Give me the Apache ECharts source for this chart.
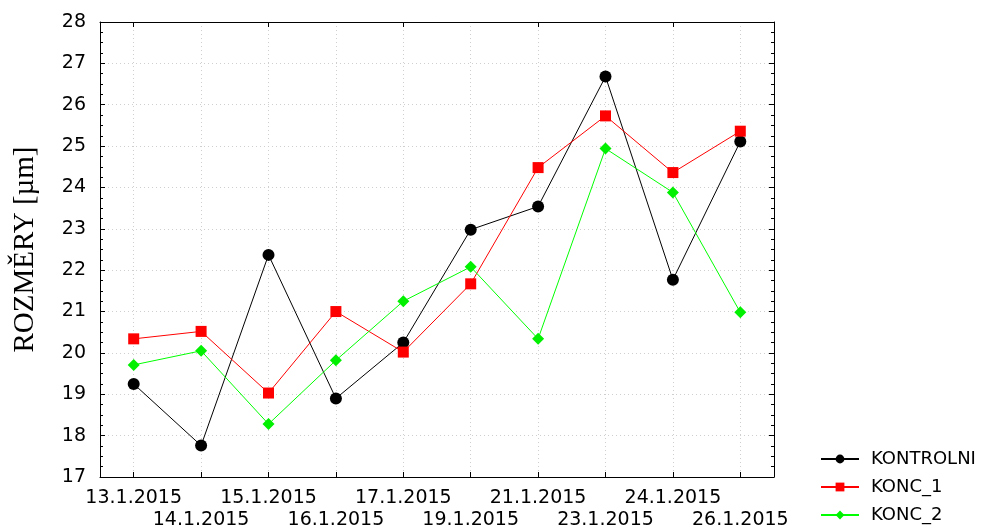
<!DOCTYPE html>
<html><head><meta charset="utf-8">
<script src="https://cdn.jsdelivr.net/npm/echarts@6/dist/echarts.min.js"></script>
<style>html,body{margin:0;padding:0;background:#fff}#c{width:1001px;height:530px}</style>
</head><body><div id="c"></div>
<script>
const categories = ['13.1.2015','14.1.2015','15.1.2015','16.1.2015','17.1.2015','19.1.2015','21.1.2015','23.1.2015','24.1.2015','26.1.2015'];
const kontrolni = [19.25, 17.76, 22.37, 18.90, 20.25, 22.98, 23.54, 26.68, 21.77, 25.11];
const konc1 = [20.34, 20.52, 19.03, 21.00, 20.02, 21.67, 24.48, 25.73, 24.36, 25.36];
const konc2 = [19.71, 20.05, 18.28, 19.82, 21.25, 22.08, 20.34, 24.94, 23.88, 20.98];
const yMin = 17, yMax = 28, yStep = 1;

const chart = echarts.init(document.getElementById('c'));
const font = 'DejaVu Sans, Arial, sans-serif';
const xCommon = {
  type: 'category', data: categories, boundaryGap: true,
  axisLine: { show: true, lineStyle: { color: '#000', width: 1 } },
  axisTick: { show: true, inside: true, alignWithLabel: true, length: 5, lineStyle: { color: '#000' } }
};
const yCommon = {
  type: 'value', min: yMin, max: yMax, interval: yStep,
  axisLine: { show: true, lineStyle: { color: '#000', width: 1 } },
  axisTick: { show: true, inside: true, length: 5, lineStyle: { color: '#000' } },
  minorTick: { show: true, splitNumber: 4, length: 3, lineStyle: { color: '#000' } }
};
chart.setOption({
  animation: false,
  grid: { left: 100, right: 227, top: 22, bottom: 53, containLabel: false, outerBoundsMode: 'none' },
  xAxis: [
    Object.assign({}, xCommon, {
      position: 'bottom',
      splitLine: { show: true, alignWithLabel: true, lineStyle: { color: '#cfcfcf', type: [1, 3], width: 1 } },
      axisLabel: {
        color: '#000', fontFamily: font, fontSize: 19, margin: 10, lineHeight: 22, interval: 0,
        formatter: (v, i) => (i % 2 ? '\n' + v : v)
      }
    }),
    Object.assign({}, xCommon, { position: 'top', axisLabel: { show: false }, splitLine: { show: false } })
  ],
  yAxis: [
    Object.assign({}, yCommon, {
      position: 'left',
      name: 'ROZMĚRY [µm]', nameLocation: 'middle', nameGap: 60, nameRotate: 90,
      nameTextStyle: { fontFamily: 'Liberation Serif, Times New Roman, serif', fontSize: 29, color: '#000' },
      axisLabel: { color: '#000', fontFamily: font, fontSize: 19, margin: 14 },
      splitLine: { show: true, lineStyle: { color: '#cfcfcf', type: [1, 3], width: 1 } }
    }),
    Object.assign({}, yCommon, { position: 'right', axisLabel: { show: false }, splitLine: { show: false } })
  ],
  legend: {
    orient: 'vertical', left: 815, top: 445,
    itemWidth: 38, itemHeight: 11, itemGap: 10,
    textStyle: { fontFamily: font, fontSize: 18, color: '#000', lineHeight: 18, padding: [0, 0, 0, 7] },
    data: ['KONTROLNI', 'KONC_1', 'KONC_2']
  },
  series: [
    { name: 'KONTROLNI', type: 'line', data: kontrolni, symbol: 'circle', symbolSize: 12,
      itemStyle: { color: '#000' }, lineStyle: { color: '#000', width: 1 } },
    { name: 'KONC_1', type: 'line', data: konc1, symbol: 'rect', symbolSize: 11,
      itemStyle: { color: '#ff0000' }, lineStyle: { color: '#ff0000', width: 1 } },
    { name: 'KONC_2', type: 'line', data: konc2, symbol: 'diamond', symbolSize: 12,
      itemStyle: { color: '#00f000' }, lineStyle: { color: '#00ff00', width: 1 } }
  ]
});
</script></body></html>
